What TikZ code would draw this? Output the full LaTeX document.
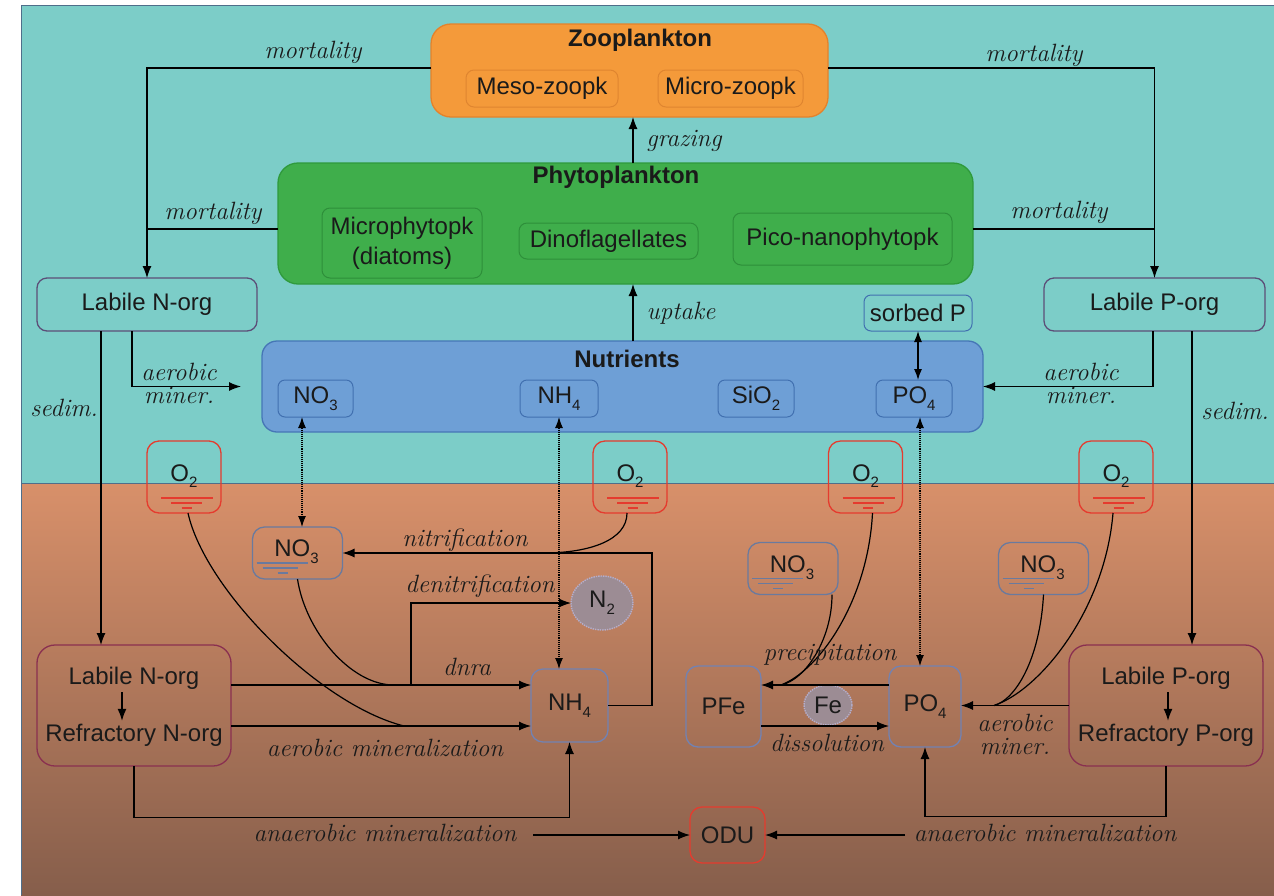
\documentclass[tikz,border=0pt]{standalone}
\usepackage{fontspec}
\newfontfamily\arialf{Liberation Sans}
\usetikzlibrary{arrows.meta,calc,shapes.geometric}
\definecolor{water}{HTML}{7CCDC8}
\definecolor{sedtop}{HTML}{D8906A}
\definecolor{sedbot}{HTML}{865E4B}
\definecolor{framec}{HTML}{4F6E8A}
\definecolor{zoofill}{HTML}{F49A3A}
\definecolor{zooedge}{HTML}{E5822A}
\definecolor{zooin}{HTML}{DF8530}
\definecolor{phyfill}{HTML}{3FAE4B}
\definecolor{phyedge}{HTML}{2F9A3C}
\definecolor{phyin}{HTML}{2E8F3A}
\definecolor{nutfill}{HTML}{6E9FD6}
\definecolor{nutedge}{HTML}{4676B6}
\definecolor{nutin}{HTML}{4170B0}
\definecolor{wlab}{HTML}{5C4E78}
\definecolor{slab}{HTML}{8A3050}
\definecolor{oxy}{HTML}{E53B2E}
\definecolor{sedbox}{HTML}{7282B2}
\definecolor{no3box}{HTML}{6A7A9E}
\definecolor{circf}{HTML}{9C8C94}
\definecolor{circe}{HTML}{B4AECC}
\definecolor{txt}{HTML}{1A1A1A}
\newcommand{\sbs}[1]{\raisebox{-0.28em}{\fontsize{15}{15}\selectfont #1}}
\begin{document}
\begin{tikzpicture}[x=1pt,y=-1pt,
  every node/.style={inner sep=0pt, outer sep=0pt, text=txt},
  sans/.style={font=\arialf\fontsize{24}{30}\selectfont},
  ttl/.style={font=\arialf\bfseries\fontsize{24}{28}\selectfont},
  lab/.style={font=\fontsize{25}{25}\selectfont\itshape},
  lab2/.style={align=center, font=\fontsize{25}{23}\selectfont\itshape},
  zoob/.style={draw=zooedge, fill=zoofill, rounded corners=20pt, line width=1.3pt},
  zooi/.style={draw=zooin, rounded corners=8pt, line width=1pt, sans},
  phyb/.style={draw=phyedge, fill=phyfill, rounded corners=20pt, line width=1.3pt},
  phyi/.style={draw=phyin, rounded corners=8pt, line width=1pt, sans, align=center},
  nutb/.style={draw=nutedge, fill=nutfill, rounded corners=15pt, line width=1.3pt},
  nuti/.style={draw=nutin, rounded corners=7pt, line width=1pt, sans},
  wbox/.style={draw=wlab, rounded corners=10pt, line width=1.3pt, sans},
  sbox/.style={draw=slab, rounded corners=18pt, line width=1.3pt},
  oxb/.style={draw=oxy, rounded corners=12pt, line width=1.3pt},
  sedb/.style={draw=sedbox, rounded corners=12pt, line width=1.3pt, sans},
  no3b/.style={draw=no3box, rounded corners=12pt, line width=1.3pt},
  circ/.style={ellipse, draw=circe, fill=circf, densely dotted, line width=1.4pt, sans},
  con/.style={line width=1.2pt, draw=black},
  arr/.style={con, -{Latex[length=12pt,width=9pt]}},
  darr/.style={line width=1.1pt, densely dotted, {Latex[length=11pt,width=8pt]}-{Latex[length=11pt,width=8pt]}},
  sarr/.style={line width=1.2pt, {Latex[length=11pt,width=8pt]}-{Latex[length=11pt,width=8pt]}},
]
\useasboundingbox (0,0) rectangle (1274,895);
% background
\fill[white] (0,0) rectangle (1274,895);
\fill[water] (21,5) rectangle (1274,483);
\shade[top color=sedtop, bottom color=sedbot] (21,483) rectangle (1274,895);
\draw[framec, line width=1pt] (1274,5) -- (21,5) -- (21,895);
\draw[framec, line width=1pt] (21,483) -- (1274,483);

% Zooplankton
\node[zoob, minimum width=397pt, minimum height=93pt] (zoo) at (629.5,70.5) {};
\node[ttl] (zoot) at (640,40) {Zooplankton};
\node[zooi, minimum width=152pt, minimum height=37pt] (meso) at (542,88.5) {Meso-zoopk};
\node[zooi, minimum width=145pt, minimum height=37pt] (micro) at (730.5,88.5) {Micro-zoopk};

% Phytoplankton
\node[phyb, minimum width=695pt, minimum height=121pt] (phyto) at (625.5,223.5) {};
\node[ttl] (phytot) at (616,177) {Phytoplankton};
\node[phyi, minimum width=160pt, minimum height=70pt] (diat) at (402,243) {Microphytopk\\(diatoms)};
\node[phyi, minimum width=179pt, minimum height=36pt] (dino) at (608.5,241) {Dinoflagellates};
\node[phyi, minimum width=219pt, minimum height=52pt] (pico) at (842.5,239) {Pico-nanophytopk};

% Labile water boxes
\node[wbox, minimum width=220pt, minimum height=53pt] (lnw) at (147,304.5) {Labile N-org};
\node[wbox, minimum width=221pt, minimum height=53pt] (lpw) at (1154.5,304.5) {Labile P-org};

% Nutrients
\node[nutb, minimum width=721pt, minimum height=91pt] (nut) at (622.5,386.5) {};
\node[ttl] (nutt) at (627,359) {Nutrients};
\node[nuti, minimum width=75pt, minimum height=37pt] (no3w) at (315.5,398.5) {NO\sbs{3}};
\node[nuti, minimum width=78pt, minimum height=37pt] (nh4w) at (559,398.5) {NH\sbs{4}};
\node[nuti, minimum width=76pt, minimum height=37pt] (sio2w) at (756,398.5) {SiO\sbs{2}};
\node[nuti, minimum width=76pt, minimum height=37pt] (po4w) at (914,398.5) {PO\sbs{4}};
\node[nuti, fill=water, minimum width=108pt, minimum height=36pt] (sorbp) at (918,313) {sorbed P};

% O2 boxes
\foreach \n/\cx in {o2a/184, o2b/630, o2c/865.5, o2d/1116} {
  \node[oxb, minimum width=74pt, minimum height=72pt] (\n) at (\cx,477) {};
  \node[sans] (\n t) at (\cx,476) {O\sbs{2}};
  \draw[oxy, line width=1.4pt] (\cx-23,498) -- (\cx+29,498);
  \draw[oxy, line width=1.4pt] (\cx-13,503) -- (\cx+18,503);
  \draw[oxy, line width=1.4pt] (\cx-2.5,508) -- (\cx+7.5,508);
}

% NO3 sediment boxes
\foreach \n/\cx/\cy in {no3a/297.5/553, no3b/793/568.5, no3c/1043.5/568.5} {
  \node[no3b, minimum width=90pt, minimum height=52pt] (\n) at (\cx,\cy) {};
  \node[sans] (\n t) at (\cx-1,\cy-1) {NO\sbs{3}};
  \draw[no3box, line width=1.3pt] (\cx-41,\cy+10) -- (\cx+10,\cy+10);
  \draw[no3box, line width=1.3pt] (\cx-35,\cy+15) -- (\cx,\cy+15);
  \draw[no3box, line width=1.3pt] (\cx-20,\cy+20) -- (\cx-10,\cy+20);
}

% sediment boxes
\node[circ, minimum width=62pt, minimum height=54pt] (n2) at (602,603) {N\sbs{2}};
\node[sedb, minimum width=77pt, minimum height=73pt] (nh4s) at (569.5,705.5) {NH\sbs{4}};
\node[sbox, minimum width=194pt, minimum height=121pt] (lns) at (134,705.5) {};
\node[sans] (lnsa) at (134,678) {Labile N-org};
\node[sans] (lnsb) at (134,735) {Refractory N-org};
\node[sedb, minimum width=75pt, minimum height=81pt] (pfe) at (723.5,706.5) {PFe};
\node[circ, minimum width=48pt, minimum height=40pt] (fe) at (828,705) {Fe};
\node[sedb, minimum width=72pt, minimum height=81pt] (po4s) at (925,706.5) {PO\sbs{4}};
\node[sbox, minimum width=194pt, minimum height=121pt] (lps) at (1166,705.5) {};
\node[sans] (lpsa) at (1166,678) {Labile P-org};
\node[sans] (lpsb) at (1166,735) {Refractory P-org};
\node[oxb, sans, minimum width=75pt, minimum height=56pt] (odu) at (727.5,835) {ODU};

% --- water connectors
\draw[arr] ($(zoo.west)+(0,-2.5)$) -| (lnw.north);
\draw[con] ($(phyto.west)+(0,5.5)$) -- ++(-130,0);
\draw[arr] ($(zoo.east)+(0,-2.5)$) -| (lpw.north);
\draw[con] ($(phyto.east)+(0,5.5)$) -- ++(181.5,0);
\node[lab] (m1) at (313,52) {mortality};
\node[lab] (m2) at (213,213) {mortality};
\node[lab] (m3) at (1034,55) {mortality};
\node[lab] (m4) at (1059,212) {mortality};

\draw[arr] ($(phyto.north)+(7.5,0)$) -- ($(zoo.south)+(3.5,0)$);
\node[lab] (graz) at (684,141) {grazing};
\draw[arr] ($(nut.north)+(10.5,0)$) -- ($(phyto.south)+(7.5,0)$);
\node[lab] (upt) at (681,313) {uptake};
\draw[sarr] (sorbp.south) -- (sorbp.south |- po4w.north);

\draw[arr, shorten >=21pt] ($(lnw.south)+(-15,0)$) |- (nut.west);
\node[lab2] (amL) at (179,383) {aerobic\\miner.};
\draw[arr] ($(lpw.south)+(-1.5,0)$) |- (nut.east);
\node[lab2] (amR) at (1081,383) {aerobic\\miner.};
\draw[arr] ($(lnw.south)+(-46,0)$) -- ($(lns.north)+(-33,0)$);
\node[lab] (sdL) at (64,408) {sedim.};
\draw[arr] ($(lpw.south)+(37.5,0)$) -- ($(lps.north)+(26,0)$);
\node[lab] (sdR) at (1235,411) {sedim.};

% dotted exchanges
\draw[darr] ($(no3w.south)+(-13.5,0)$) -- ($(no3a.north)+(4.5,0)$);
\draw[darr] (nh4w.south) -- ($(nh4s.north)+(-10.5,0)$);
\draw[darr] ($(po4w.south)+(6,0)$) -- ($(po4s.north)+(-5,0)$);

% --- sediment N side
\draw[arr] ($(lnsa.south)+(-12,3)$) -- ($(lnsb.north)+(-12,-3)$);
\draw[arr] ($(lns.east)+(0,-20.5)$) -- ($(nh4s.west)+(0,-20.5)$);
\draw[arr] ($(lns.east)+(0,20.5)$) -- ($(nh4s.west)+(0,20.5)$);
\coordinate (jA) at (404,726);
\coordinate (jB) at (394,685);
\coordinate (dn) at (411,685);
\draw[con] ($(o2a.south)+(4,0)$) .. controls (205,590) and (320,705) .. (jA);
\draw[con] (no3a.south) .. controls (305,630) and (350,685) .. (jB);
\draw[arr] (dn) |- (n2.west);
\node[lab] (dnra) at (467,667) {dnra};
\node[lab] (denit) at (480,586) {denitrification};
\node[lab] (aermin) at (385,748) {aerobic mineralization};
\draw[arr] (lns.south) -- ++(0,51.5) -| (nh4s.south);
\coordinate (odL) at (533,835);
\draw[arr] (odL) -- (odu.west);
\node[lab] (anL) at (385,833) {anaerobic mineralization};
\draw[arr] (nh4s.east) -- ++(44,0) |- (no3a.east);
\coordinate (jC) at (543,553);
\draw[con] ($(o2b.south)+(-3,0)$) .. controls (627,540) and (590,553) .. (jC);
\node[lab] (nitr) at (465,540) {nitrification};

% --- sediment P side
\draw[arr] ($(lpsa.south)+(2,3)$) -- ($(lpsb.north)+(2,-3)$);
\draw[arr] ($(po4s.west)+(0,-21.5)$) -- ($(pfe.east)+(0,-21.5)$);
\draw[arr] ($(pfe.east)+(0,19.5)$) -- ($(po4s.west)+(0,19.5)$);
\coordinate (jD) at (781,685);
\draw[con] ($(no3b.south)+(39,0)$) .. controls (832,640) and (805,680) .. (jD);
\draw[con] ($(o2c.south)+(7,0)$) .. controls (868,600) and (820,670) .. (jD);
\node[lab] (prec) at (830,655) {precipitation};
\node[lab] (diss) at (827,743) {dissolution};
\draw[arr] (lps.west) -- (lps.west -| po4s.east);
\coordinate (jE) at (994,705.5);
\draw[con] (no3c.south) .. controls (1040,660) and (1015,700) .. (jE);
\draw[con] ($(o2d.south)+(-3,0)$) .. controls (1105,610) and (1040,690) .. (jE);
\node[lab2] (amS) at (1015,734) {aerobic\\miner.};
\draw[arr] (lps.south) -- ++(0,50.5) -| (po4s.south);
\coordinate (odR) at (905,835);
\draw[arr] (odR) -- (odu.east);
\node[lab] (anR) at (1045,833) {anaerobic mineralization};
\end{tikzpicture}
\end{document}
